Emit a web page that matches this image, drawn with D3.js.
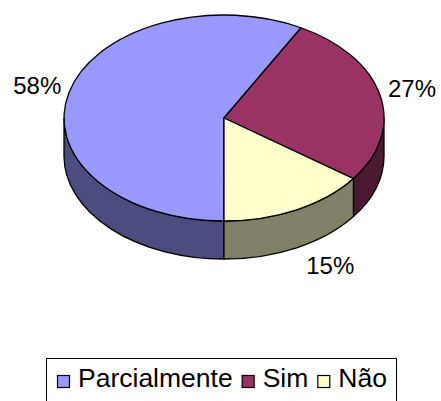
<!DOCTYPE html>
<html>
<head>
<meta charset="utf-8">
<script src="https://cdn.jsdelivr.net/npm/d3@7"></script>
<style>
  body { margin: 0; background: #fff; }
  svg { display: block; font-family: "Liberation Sans", Arial, sans-serif; }
</style>
</head>
<body>
<div id="chart"></div>
<script>
// data
var categories = ["Parcialmente", "Sim", "Não"];
var values = [58, 27, 15];
var labels = ["58%", "27%", "15%"];
var topColors = ["#9999ff", "#993366", "#ffffcc"];
var sideColors = ["#4c4c80", "#4c1933", "#808066"];

var width = 441, height = 401;
var cx = 224, cy = 118, rx = 160, ry = 103, depth = 38;

var svg = d3.select("#chart").append("svg")
    .attr("width", width)
    .attr("height", height);

// excel starts the first slice at 6 o'clock here
var pie = d3.pie().sort(null).value(function(d) { return d; })
    .startAngle(Math.PI).endAngle(3 * Math.PI);
var slices = pie(values);

function px(a, r) { return cx + (r || rx) * Math.sin(a); }
function py(a, r) { return cy - (r || ry) * Math.cos(a); }

// outer wall, only the front half (pi/2 .. 3pi/2) is visible
function wallPath(a0, a1) {
  var p = "M" + px(a0) + "," + py(a0);
  p += "A" + rx + "," + ry + " 0 0 1 " + px(a1) + "," + py(a1);
  p += "L" + px(a1) + "," + (py(a1) + depth);
  p += "A" + rx + "," + ry + " 0 0 0 " + px(a0) + "," + (py(a0) + depth);
  return p + "Z";
}

var walls = [];
slices.forEach(function(s, i) {
  [0, 2 * Math.PI].forEach(function(k) {
    var lo = Math.max(s.startAngle, Math.PI / 2 + k),
        hi = Math.min(s.endAngle, 3 * Math.PI / 2 + k);
    if (hi > lo) walls.push({i: i, a0: lo, a1: hi});
  });
});

svg.append("g").selectAll("path")
    .data(walls)
  .enter().append("path")
    .attr("d", function(d) { return wallPath(d.a0, d.a1); })
    .attr("fill", function(d) { return sideColors[d.i]; })
    .attr("stroke", "#000")
    .attr("stroke-width", 1.3)
    .attr("stroke-linejoin", "round");

// top face: a circle arc squashed to an ellipse
var arc = d3.arc().innerRadius(0).outerRadius(rx);
svg.append("g")
    .attr("transform", "translate(" + cx + "," + cy + ") scale(1," + (ry / rx) + ")")
  .selectAll("path")
    .data(slices)
  .enter().append("path")
    .attr("d", arc)
    .attr("fill", function(d, i) { return topColors[i]; })
    .attr("stroke", "#000")
    .attr("stroke-width", 1.3)
    .attr("stroke-linejoin", "round")
    .attr("vector-effect", "non-scaling-stroke");

// data labels
svg.append("g").selectAll("text")
    .data(slices)
  .enter().append("text")
    .attr("font-size", 24)
    .attr("fill", "#000")
    .each(function(d, i) {
      var m = (d.startAngle + d.endAngle) / 2,
          s = Math.sin(m), c = Math.cos(m);
      var x = px(m, rx + 8), y = py(m, ry + 8);
      if (c < 0) { y += depth; x += 6; }
      var anchor = s > 0.3 ? "start" : (s < -0.3 ? "end" : "middle");
      var dy = c < -0.3 ? "0.8em" : (c > 0.3 ? "0em" : "0.15em");
      d3.select(this)
          .attr("x", x).attr("y", y)
          .attr("dy", dy)
          .attr("text-anchor", anchor)
          .text(labels[i]);
    });

// legend
var legend = svg.append("g");
legend.append("rect")
    .attr("x", 46.5).attr("y", 358.5)
    .attr("width", 350).attr("height", 50)
    .attr("fill", "#fff")
    .attr("stroke", "#000")
    .attr("stroke-width", 1);

var items = legend.selectAll("g.item")
    .data(categories)
  .enter().append("g")
    .attr("class", "item");

items.append("rect")
    .attr("x", 0.5).attr("y", 0.5)
    .attr("width", 12).attr("height", 12)
    .attr("fill", function(d, i) { return topColors[i]; })
    .attr("stroke", "#000")
    .attr("stroke-width", 1.2);

items.append("text")
    .attr("x", 21)
    .attr("y", 12)
    .attr("font-size", 26.5)
    .text(function(d) { return d; });

var xoff = 0, pos = [];
items.each(function() {
  pos.push(xoff);
  xoff += 21 + this.querySelector("text").getComputedTextLength() + 9;
});
items.attr("transform", function(d, i) {
  return "translate(" + (57 + pos[i]) + ",375)";
});
</script>
</body>
</html>
